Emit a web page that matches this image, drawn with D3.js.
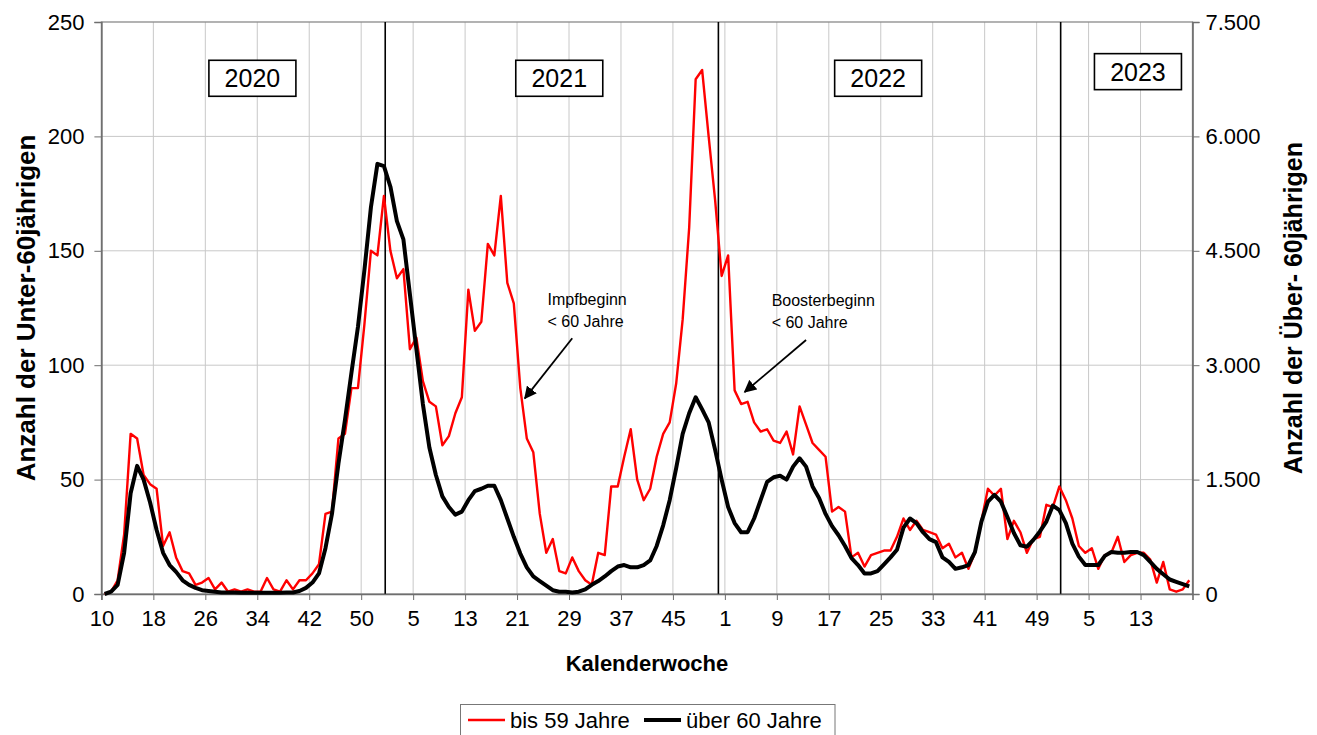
<!DOCTYPE html>
<html>
<head>
<meta charset="utf-8">
<script src="https://cdn.jsdelivr.net/npm/d3@7"></script>
<style>
  body { margin: 0; background: #fff; }
  svg { font-family: "Liberation Sans", Arial, sans-serif; display: block; }
</style>
</head>
<body>
<div id="chart"></div>
<script>
// Kalenderwoche tick labels (every 8th week, 2020 W10 .. 2023 W13)
var weekTicks = ["10", "18", "26", "34", "42", "50", "5", "13", "21", "29", "37",
                 "45", "1", "9", "17", "25", "33", "41", "49", "5", "13"];

// bis 59 Jahre (left axis), one value per week from 2020 W10
var under60 = [
  0, 1, 6, 26, 70, 68, 52, 48, 46, 21, 27, 16, 10, 9, 4, 5, 7, 2, 5, 1,
  2, 1, 2, 1, 1, 7, 2, 1, 6, 2, 6, 6, 9, 13, 35, 36, 68, 70, 90, 90,
  118, 150, 148, 174, 150, 138, 142, 107, 112, 93, 84, 82, 65, 69, 79, 86, 133, 115, 119, 153,
  148, 174, 136, 127, 90, 68, 62, 35, 18, 24, 10, 9, 16, 10, 6, 4, 18, 17, 47, 47,
  60, 72, 50, 41, 46, 60, 70, 75, 92, 120, 160, 225, 229, 200, 172, 139, 148, 89, 83, 84,
  75, 71, 72, 67, 66, 71, 61, 82, 74, 66, 63, 60, 36, 38, 36, 16, 18, 12, 17, 18,
  19, 19, 25, 33, 28, 32, 28, 27, 26, 20, 22, 16, 18, 11, 18, 32, 46, 43, 46, 24,
  32, 27, 18, 24, 25, 39, 38, 47, 41, 33, 21, 18, 20, 11, 17, 18, 25, 14, 17, 18,
  18, 15, 5, 14, 2, 1, 2, 6
];

// über 60 Jahre (right axis)
var over60 = [
  0, 30, 120, 540, 1320, 1680, 1500, 1200, 840, 540, 380, 290, 180, 120, 80, 50, 40, 30, 20, 20,
  20, 15, 15, 15, 15, 15, 15, 15, 20, 20, 40, 80, 150, 270, 600, 1050, 1710, 2280, 2900, 3500,
  4250, 5070, 5640, 5610, 5340, 4890, 4650, 3930, 3210, 2490, 1920, 1560, 1280, 1140, 1040, 1080, 1230, 1350, 1380, 1420,
  1420, 1230, 990, 750, 530, 350, 230, 170, 110, 50, 30, 30, 20, 30, 60, 120, 170, 230, 300, 360,
  380, 350, 350, 380, 440, 630, 900, 1230, 1650, 2100, 2370, 2580, 2420, 2250, 1890, 1500, 1140, 930, 810, 810,
  990, 1230, 1470, 1530, 1550, 1500, 1670, 1780, 1670, 1410, 1260, 1050, 890, 770, 630, 470, 380, 270, 270, 300,
  390, 480, 580, 870, 990, 930, 810, 720, 680, 480, 420, 330, 350, 380, 550, 950, 1210, 1300, 1210, 1010,
  800, 640, 620, 710, 820, 950, 1160, 1100, 930, 660, 490, 380, 380, 380, 500, 550, 540, 540, 550, 550,
  510, 420, 330, 260, 190, 160, 130, 100
];

var yearNames = ["2020", "2021", "2022", "2023"];
var legendNames = ["bis 59 Jahre", "über 60 Jahre"];

var width = 1317, height = 735;
var margin = { top: 22, left: 101.4, right: 124.5, bottom: 141 };

var red = "#ff0000";
var gridColor = "#c8c8c8";
var axisColor = "#6e6e6e";

var de = d3.formatLocale({ decimal: ",", thousands: ".", grouping: [3], currency: ["", " €"] });
var fmtRight = de.format(",");

var svg = d3.select("#chart")
    .append("svg")
    .attr("width", width)
    .attr("height", height);

var x = d3.scaleLinear()
    .domain([0, 168])
    .range([margin.left, width - margin.right]);
var yL = d3.scaleLinear()
    .domain([0, 250])
    .range([height - margin.bottom, margin.top]);
var yR = d3.scaleLinear()
    .domain([0, 7500])
    .range([height - margin.bottom, margin.top]);

var tickPos = weekTicks.map((d, i) => i * 8);

// grid
svg.append("g").selectAll("line")
    .data(tickPos.slice(1))
    .enter().append("line")
    .attr("x1", d => x(d)).attr("x2", d => x(d))
    .attr("y1", yL(0)).attr("y2", yL(250))
    .attr("stroke", gridColor).attr("stroke-width", 1);
svg.append("g").selectAll("line")
    .data([50, 100, 150, 200])
    .enter().append("line")
    .attr("x1", x(0)).attr("x2", x(168))
    .attr("y1", d => yL(d)).attr("y2", d => yL(d))
    .attr("stroke", gridColor).attr("stroke-width", 1);

// frame
svg.append("rect")
    .attr("x", x(0)).attr("y", yL(250))
    .attr("width", x(168) - x(0)).attr("height", yL(0) - yL(250))
    .attr("fill", "none").attr("stroke", "#8a8a8a").attr("stroke-width", 1.3);

// year separators (positions in week-index units)
var yearBreaks = [43.7, 95.0, 147.7];
svg.append("g").selectAll("line")
    .data(yearBreaks)
    .enter().append("line")
    .attr("x1", d => x(d)).attr("x2", d => x(d))
    .attr("y1", yL(0)).attr("y2", yL(250))
    .attr("stroke", "#000").attr("stroke-width", 1.6);

// axes
var xAxis = d3.axisBottom(x).tickValues(tickPos).tickFormat((d, i) => weekTicks[i])
    .tickSize(6).tickPadding(10);
var gx = svg.append("g")
    .attr("transform", "translate(0," + yL(0) + ")")
    .call(xAxis);

var gl = svg.append("g")
    .attr("transform", "translate(" + x(0) + ",0)")
    .call(d3.axisLeft(yL).tickValues([0, 50, 100, 150, 200, 250]).tickSize(7).tickPadding(10));

var gr = svg.append("g")
    .attr("transform", "translate(" + x(168) + ",0)")
    .call(d3.axisRight(yR).tickValues([0, 1500, 3000, 4500, 6000, 7500]).tickFormat(fmtRight)
        .tickSize(7).tickPadding(6));

[gx, gl, gr].forEach(g => {
    g.select(".domain").attr("stroke", axisColor).attr("stroke-width", 1.6);
    g.selectAll(".tick line").attr("stroke", axisColor).attr("stroke-width", 1);
    g.selectAll(".tick text")
        .attr("fill", "#000")
        .style("font-size", "22px")
        .style("font-family", "'Liberation Sans', Arial, sans-serif");
});

// axis titles
svg.append("text")
    .attr("x", (x(0) + x(168)) / 2).attr("y", 671)
    .attr("text-anchor", "middle")
    .style("font-size", "22px").style("font-weight", "bold")
    .text("Kalenderwoche");
svg.append("text")
    .attr("transform", "translate(35," + ((yL(0) + yL(250)) / 2) + ") rotate(-90)")
    .attr("text-anchor", "middle")
    .style("font-size", "26px").style("font-weight", "bold")
    .text("Anzahl der Unter-60jährigen");
svg.append("text")
    .attr("transform", "translate(1302," + ((yL(0) + yL(250)) / 2) + ") rotate(-90)")
    .attr("text-anchor", "middle")
    .style("font-size", "25px").style("font-weight", "bold")
    .text("Anzahl der Über- 60jährigen");

// year boxes
var yearBoxPos = [[23.25, 225.4], [70.5, 225.4], [119.6, 225.4], [159.6, 228.3]];
var yb = svg.append("g").selectAll("g")
    .data(yearNames)
    .enter().append("g")
    .attr("transform", (d, i) => "translate(" + x(yearBoxPos[i][0]) + "," + yL(yearBoxPos[i][1]) + ")");
yb.append("rect")
    .attr("x", -43.5).attr("y", -18).attr("width", 87).attr("height", 36)
    .attr("fill", "#fff").attr("stroke", "#000").attr("stroke-width", 1.6);
yb.append("text")
    .attr("text-anchor", "middle").attr("y", 9)
    .style("font-size", "25px")
    .text(d => d);

// series
var lineRed = d3.line()
    .x((d, i) => x(i + 0.5))
    .y(d => yL(d));
var lineBlack = d3.line()
    .x((d, i) => x(i + 0.5))
    .y(d => yR(d));

svg.append("path")
    .datum(under60)
    .attr("d", lineRed)
    .attr("fill", "none").attr("stroke", red)
    .attr("stroke-width", 2.4).attr("stroke-linejoin", "round");
svg.append("path")
    .datum(over60)
    .attr("d", lineBlack)
    .attr("fill", "none").attr("stroke", "#000")
    .attr("stroke-width", 4).attr("stroke-linejoin", "round");

// annotations
svg.append("defs").append("marker")
    .attr("id", "arrow")
    .attr("viewBox", "0 0 10 10")
    .attr("refX", 9).attr("refY", 5)
    .attr("markerWidth", 7).attr("markerHeight", 7)
    .attr("orient", "auto")
    .append("path").attr("d", "M0,0 L10,5 L0,10 z").attr("fill", "#000");

var notes = [
    { lines: ["Impfbeginn", "< 60 Jahre"], tx: 68.7, ty: [126.3, 116.8], from: [72.5, 111.8], to: [65.2, 85.5] },
    { lines: ["Boosterbeginn", "< 60 Jahre"], tx: 103.2, ty: [125.9, 116.3], from: [108.5, 111], to: [99.05, 88.3] }
];
notes.forEach(n => {
    n.lines.forEach((t, j) => {
        svg.append("text")
            .attr("x", x(n.tx)).attr("y", yL(n.ty[j]))
            .style("font-size", "16px")
            .text(t);
    });
    svg.append("line")
        .attr("x1", x(n.from[0])).attr("y1", yL(n.from[1]))
        .attr("x2", x(n.to[0])).attr("y2", yL(n.to[1]))
        .attr("stroke", "#000").attr("stroke-width", 1.8)
        .attr("marker-end", "url(#arrow)");
});

// legend
var lg = svg.append("g");
lg.append("rect")
    .attr("x", 460.5).attr("y", 704.5).attr("width", 374.5).attr("height", 34)
    .attr("fill", "#fff").attr("stroke", "#777").attr("stroke-width", 1);
var lgX = [468, 644];
legendNames.forEach((name, i) => {
    lg.append("line")
        .attr("x1", lgX[i]).attr("x2", lgX[i] + 37)
        .attr("y1", 720).attr("y2", 720)
        .attr("stroke", i === 0 ? red : "#000")
        .attr("stroke-width", i === 0 ? 2.6 : 4);
    lg.append("text")
        .attr("x", lgX[i] + 42).attr("y", 728)
        .style("font-size", "22px")
        .text(name);
});
</script>
</body>
</html>
